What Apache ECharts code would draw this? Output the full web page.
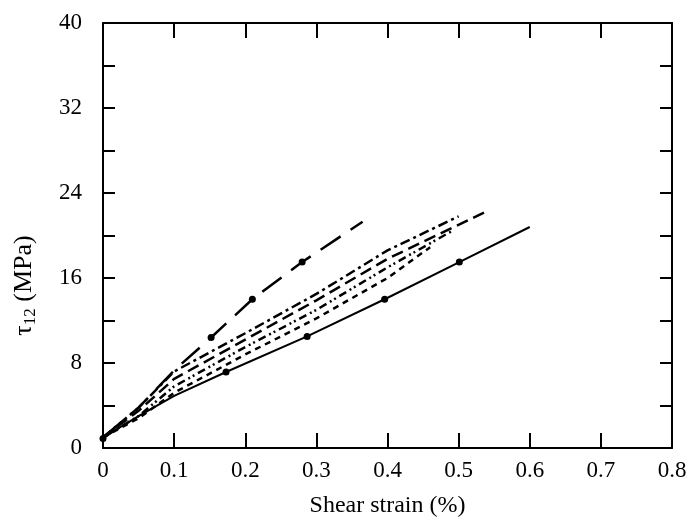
<!DOCTYPE html>
<html>
<head>
<meta charset="utf-8">
<script src="https://cdn.jsdelivr.net/npm/echarts@6/dist/echarts.min.js"></script>
<style>html,body{margin:0;padding:0;background:#fff}#c{width:690px;height:525px}</style>
</head>
<body>
<div id="c"></div>
<script>
// Solid line with circle markers
var solidX = [0, 0.02, 0.05, 0.1, 0.173, 0.287, 0.396, 0.501, 0.6];
var solidY = [0.9, 1.8, 3.0, 4.9, 7.15, 10.5, 14.0, 17.5, 20.8];
var solidMark = [1, 0, 0, 0, 1, 1, 1, 1, 0];
// Long-dash line with circle markers
var longX = [0, 0.05, 0.1, 0.152, 0.21, 0.28, 0.365];
var longY = [1.0, 3.8, 7.3, 10.4, 14.0, 17.5, 21.3];
var longMark = [0, 0, 0, 1, 1, 1, 0];
// Cluster curves
var aX = [0, 0.05, 0.1, 0.2, 0.3, 0.4, 0.5];
var aY = [1.0, 3.8, 7.2, 10.8, 14.5, 18.6, 21.8];
var bX = [0, 0.05, 0.1, 0.2, 0.3, 0.4, 0.537];
var bY = [1.0, 3.5, 6.5, 10.2, 13.9, 17.8, 22.2];
var cX = [0, 0.05, 0.1, 0.2, 0.3, 0.4, 0.49];
var cY = [1.0, 3.0, 5.8, 9.5, 13.0, 17.0, 20.4];
var dX = [0, 0.05, 0.1, 0.2, 0.3, 0.4, 0.46];
var dY = [1.0, 2.8, 5.2, 8.8, 12.2, 16.0, 18.9];

var xTicks = [0, 0.1, 0.2, 0.3, 0.4, 0.5, 0.6, 0.7, 0.8];
var yTicks = [0, 8, 16, 24, 32, 40];

function pts(xs, ys, marks) {
  return xs.map(function (x, i) {
    var item = { value: [x, ys[i]] };
    if (marks && !marks[i]) item.symbol = 'none';
    return item;
  });
}
function line(xs, ys, marks, type, width) {
  return {
    type: 'line', data: pts(xs, ys, marks), xAxisIndex: 0, yAxisIndex: 0,
    showSymbol: true, symbol: marks ? 'circle' : 'none', symbolSize: 7,
    itemStyle: { color: '#000' },
    lineStyle: { color: '#000', width: width || 2, type: type },
    silent: true, animation: false
  };
}
var font = 'Liberation Serif';
var axLine = { onZero: false, lineStyle: { color: '#000', width: 2 } };
var chart = echarts.init(document.getElementById('c'));
chart.setOption({
  backgroundColor: '#fff',
  animation: false,
  grid: { left: 103, right: 18, top: 23, bottom: 77 },
  xAxis: [{
    type: 'value', min: 0, max: 0.8, interval: 0.1, position: 'bottom',
    name: 'Shear strain (%)', nameLocation: 'middle', nameGap: 46,
    nameTextStyle: { fontFamily: font, fontSize: 24, color: '#000' },
    axisLine: axLine,
    axisTick: { inside: true, length: 15, lineStyle: { color: '#000', width: 2 } },
    axisLabel: { fontFamily: font, fontSize: 23, color: '#000', margin: 11,
      formatter: function (v) { var r = Math.round(v * 10) / 10; return xTicks.indexOf(r) >= 0 ? String(r) : ''; } },
    splitLine: { show: false }
  }, {
    type: 'value', min: 0, max: 0.8, interval: 0.1, position: 'top',
    axisLine: axLine,
    axisTick: { inside: true, length: 15, lineStyle: { color: '#000', width: 2 } },
    axisLabel: { show: false }, splitLine: { show: false }
  }],
  yAxis: [{
    type: 'value', min: 0, max: 40, interval: 4, position: 'left',
    name: '{t|τ}{s|12}{t| (MPa)}', nameLocation: 'middle', nameGap: 64,
    nameTextStyle: { fontFamily: font, fontSize: 25, color: '#000', padding: [0, 100, 0, 0],
      rich: {
        t: { fontFamily: font, fontSize: 26, color: '#000' },
        s: { fontFamily: font, fontSize: 17, color: '#000', padding: [12, 0, 0, 0] }
      } },
    axisLine: axLine,
    axisTick: { inside: true, length: 12, lineStyle: { color: '#000', width: 2 } },
    axisLabel: { fontFamily: font, fontSize: 23, color: '#000', margin: 21,
      formatter: function (v) { return yTicks.indexOf(v) >= 0 ? String(v) : ''; } },
    splitLine: { show: false }
  }, {
    type: 'value', min: 0, max: 40, interval: 4, position: 'right',
    axisLine: axLine,
    axisTick: { inside: true, length: 12, lineStyle: { color: '#000', width: 2 } },
    axisLabel: { show: false }, splitLine: { show: false }
  }],
  series: [
    line(solidX, solidY, solidMark, 'solid', 2),
    line(longX, longY, longMark, [24, 12], 2.5),
    line(aX, aY, null, [10, 4, 3, 4], 2.5),
    line(bX, bY, null, [12, 6], 2.5),
    line(cX, cY, null, [8, 4, 2, 3, 2, 4], 2.5),
    line(dX, dY, null, [6, 5], 2.5)
  ]
});
</script>
</body>
</html>
